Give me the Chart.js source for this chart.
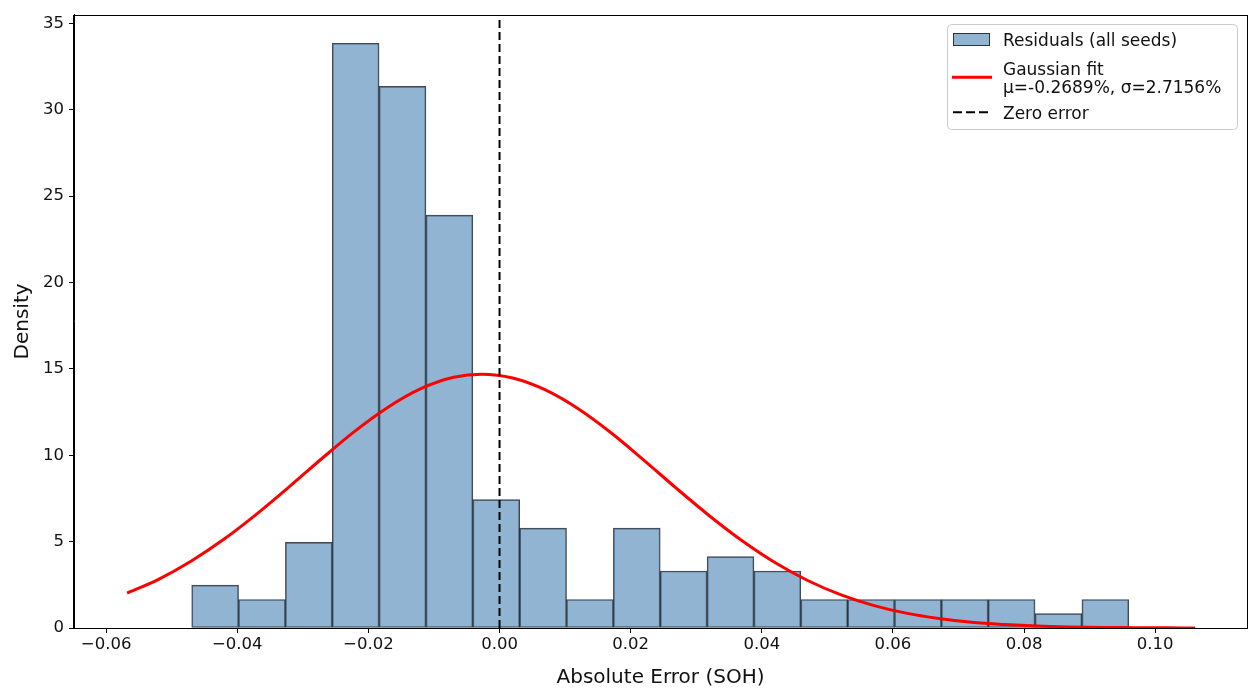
<!DOCTYPE html>
<html>
<head>
<meta charset="utf-8">
<script src="https://cdn.jsdelivr.net/npm/chart.js@4.4.1/dist/chart.umd.min.js"></script>
<style>
  html, body { margin: 0; padding: 0; background: #fff; }
  #wrap { width: 1260px; height: 698px; }
</style>
</head>
<body>
<div id="wrap"><canvas id="histChart" width="1260" height="698"></canvas></div>
<script>
/* ── Data ── */
const binEdges = [
  -0.04695, -0.03980, -0.03266, -0.02551, -0.01837, -0.01122, -0.00407,
   0.00307,  0.01022,  0.01736,  0.02451,  0.03166,  0.03880,  0.04595,
   0.05309,  0.06024,  0.06739,  0.07453,  0.08168,  0.08882,  0.09597,
];
const binDensity = [
  2.48, 1.65, 4.96, 33.85, 31.35, 23.90, 7.43, 5.78, 1.65, 5.78,
  3.30, 4.13, 3.30, 1.65, 1.65, 1.65, 1.65, 1.65, 0.83, 1.65,
];

// Gaussian fit curve, sampled by eye along the red line
const fitX = [
  -0.0568, -0.052, -0.047, -0.042, -0.037, -0.032, -0.027, -0.022, -0.017,
  -0.012, -0.007, -0.0027, 0.002, 0.007, 0.012, 0.017, 0.022, 0.027, 0.032,
  0.037, 0.042, 0.047, 0.052, 0.057, 0.062, 0.067, 0.072, 0.077, 0.082,
  0.087, 0.092, 0.097, 0.102, 0.1061,
];
const fitY = [
  2.02, 2.82, 3.88, 5.15, 6.61, 8.20, 9.84, 11.41, 12.78,
  13.85, 14.51, 14.69, 14.47, 13.78, 12.69, 11.30, 9.72, 8.08, 6.50,
  5.05, 3.79, 2.75, 1.93, 1.31, 0.86, 0.55, 0.33, 0.20, 0.11,
  0.06, 0.03, 0.02, 0.01, 0.00,
];

const zeroX = 0;

const xTicks = [-0.06, -0.04, -0.02, 0.00, 0.02, 0.04, 0.06, 0.08, 0.10];
const yTicks = [0, 5, 10, 15, 20, 25, 30, 35];
const xRange = [-0.0649, 0.1140];
const yRange = [0, 35.49];

const legendLabels = [
  'Residuals (all seeds)',
  ['Gaussian fit', 'μ=-0.2689%, σ=2.7156%'],
  'Zero error',
];

/* ── Styles ── */
const FONT    = '"DejaVu Sans", Verdana, sans-serif';
const barFill = 'rgba(70,130,180,0.6)';
const barEdge = 'rgba(10,10,10,0.75)';

/* ── Plugin: white bg, full spine box, in-axes legend ── */
const framePlugin = {
  id: 'frame',
  beforeDraw(chart) {
    const { ctx, width, height } = chart;
    ctx.save();
    ctx.fillStyle = '#fff';
    ctx.fillRect(0, 0, width, height);
    ctx.restore();
  },
  afterDraw(chart) {
    const { ctx, chartArea: a } = chart;
    ctx.save();
    ctx.strokeStyle = '#000';
    ctx.lineWidth = 1;
    ctx.strokeRect(Math.round(a.left) - 0.5, Math.round(a.top) + 0.5,
                   Math.round(a.right - a.left) + 1, Math.round(a.bottom - a.top));

    // legend box
    const W = 290, H = 105;
    const L = Math.round(a.right) - 10 - W, T = Math.round(a.top) + 9;
    ctx.beginPath();
    ctx.roundRect(L + 0.5, T + 0.5, W, H, 4);
    ctx.fillStyle = 'rgba(255,255,255,0.8)';
    ctx.fill();
    ctx.strokeStyle = '#cccccc';
    ctx.stroke();

    // handles
    ctx.fillStyle = barFill;
    ctx.fillRect(L + 6, T + 9, 37, 13);
    ctx.strokeStyle = barEdge;
    ctx.lineWidth = 1;
    ctx.strokeRect(L + 6.5, T + 9.5, 36, 12);

    ctx.strokeStyle = 'red';
    ctx.lineWidth = 3;
    ctx.beginPath();
    ctx.moveTo(L + 5, T + 53.3);
    ctx.lineTo(L + 45, T + 53.3);
    ctx.stroke();

    ctx.strokeStyle = '#000';
    ctx.lineWidth = 2;
    ctx.setLineDash([9, 4]);
    ctx.beginPath();
    ctx.moveTo(L + 6, T + 88.3);
    ctx.lineTo(L + 44, T + 88.3);
    ctx.stroke();
    ctx.setLineDash([]);

    // labels
    ctx.fillStyle = '#111';
    ctx.font = '17px ' + FONT;
    ctx.textBaseline = 'alphabetic';
    ctx.textAlign = 'left';
    ctx.fillText(legendLabels[0], L + 56, T + 21.7);
    ctx.fillText(legendLabels[1][0], L + 56, T + 50.5);
    ctx.fillText(legendLabels[1][1], L + 56, T + 68.5);
    ctx.fillText(legendLabels[2], L + 56, T + 95);
    ctx.restore();
  },
};

const fmtX = v => (v < -1e-9 ? '\u2212' : '') + Math.abs(v).toFixed(2);

/* ── Chart ── */
const histChart = new Chart(
  document.getElementById('histChart').getContext('2d'),
  {
    type: 'bar',
    data: {
      datasets: [
        {
          type: 'line',
          label: legendLabels[2],
          data: [{ x: zeroX, y: yRange[0] }, { x: zeroX, y: yRange[1] }],
          borderColor: '#000',
          borderWidth: 2,
          borderDash: [8, 4],
          pointRadius: 0,
          fill: false,
          order: 1,
        },
        {
          type: 'line',
          label: 'Gaussian fit',
          data: fitX.map((x, i) => ({ x, y: fitY[i] })),
          borderColor: 'red',
          borderWidth: 3,
          pointRadius: 0,
          fill: false,
          cubicInterpolationMode: 'monotone',
          order: 2,
        },
        {
          label: legendLabels[0],
          data: binDensity.map((y, i) => ({ x: (binEdges[i] + binEdges[i + 1]) / 2, y })),
          backgroundColor: barFill,
          borderColor: barEdge,
          borderWidth: 1,
          borderSkipped: false,
          barPercentage: 1,
          categoryPercentage: 1,
          order: 3,
        },
      ],
    },
    options: {
      responsive: false,
      animation: false,
      devicePixelRatio: 1,
      layout: { padding: { top: 14, right: 13, left: 0, bottom: 0 } },
      plugins: { legend: { display: false }, tooltip: { enabled: false } },
      scales: {
        x: {
          type: 'linear',
          min: xRange[0], max: xRange[1],
          offset: false,
          afterBuildTicks: s => { s.ticks = xTicks.map(v => ({ value: v })); },
          afterFit: s => { s.height = 70; },
          ticks: {
            font: { family: FONT, size: 16.5 },
            color: '#111',
            padding: 2,
            maxRotation: 0,
            autoSkip: false,
            callback: v => fmtX(v),
          },
          grid: { display: true, offset: false, drawOnChartArea: false, drawTicks: true, tickLength: 5, tickColor: '#000' },
          border: { display: true, color: '#000' },
          title: {
            display: true,
            text: 'Absolute Error (SOH)',
            font: { family: FONT, size: 20 },
            color: '#111',
            padding: { top: 0, bottom: 8 },
          },
        },
        y: {
          type: 'linear',
          min: yRange[0], max: yRange[1],
          afterBuildTicks: s => { s.ticks = yTicks.map(v => ({ value: v })); },
          afterFit: s => { s.width = 74; },
          ticks: {
            font: { family: FONT, size: 16.5 },
            color: '#111',
            padding: 5,
            callback: v => String(v),
          },
          grid: { display: true, drawOnChartArea: false, drawTicks: true, tickLength: 5, tickColor: '#000' },
          border: { display: true, color: '#000' },
          title: {
            display: true,
            text: 'Density',
            font: { family: FONT, size: 20 },
            color: '#111',
            padding: { top: 11, bottom: 0 },
          },
        },
      },
    },
    plugins: [framePlugin],
  }
);
</script>
</body>
</html>
